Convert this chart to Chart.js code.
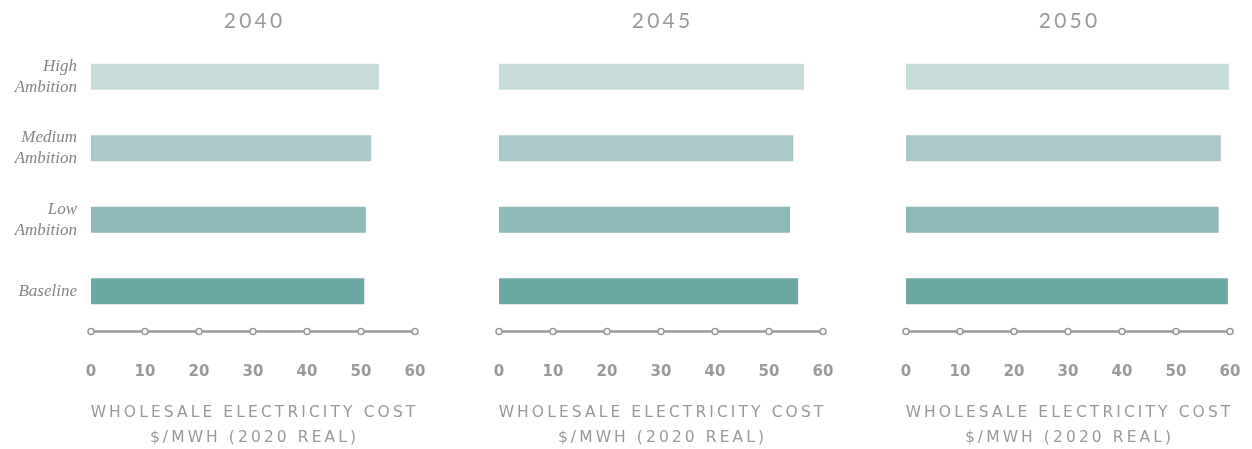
<!DOCTYPE html>
<html>
<head>
<meta charset="utf-8">
<script src="https://cdn.jsdelivr.net/npm/chart.js@4.4.1/dist/chart.umd.min.js"></script>
<style>
  body { margin: 0; background: #fff; }
  #wrap { position: relative; width: 1252px; height: 449px; overflow: hidden; }
  .panel { position: absolute; top: 0; width: 440px; height: 449px; }
  .year {
    position: absolute; top: 8px; line-height: 24px; transform: translateX(-50%);
    font-family: Lato, sans-serif; font-weight: 400; font-size: 21px;
    letter-spacing: 3.2px; padding-left: 3.2px; color: #9a9a9a; white-space: nowrap;
  }
  .axisTitle {
    position: absolute; top: 400px; line-height: 25px; transform: translateX(-50%);
    font-family: "DejaVu Sans", sans-serif; font-size: 15.5px; text-align: center;
    letter-spacing: 3.1px; padding-left: 3.1px; color: #999; white-space: nowrap;
  }
</style>
</head>
<body>
<div id="wrap"></div>
<script>
// scenario rows, top to bottom
var categories = [['High', 'Ambition'], ['Medium', 'Ambition'], ['Low', 'Ambition'], 'Baseline'];
var years = ['2040', '2045', '2050'];

// wholesale cost, $/MWh (2020 real)
var cost2040 = [53.3, 51.9, 50.9, 50.6];
var cost2045 = [56.5, 54.5, 53.9, 55.4];
var cost2050 = [59.8, 58.3, 57.9, 59.6];

var xTicks = [0, 10, 20, 30, 40, 50, 60];
var axisTitle = ['WHOLESALE ELECTRICITY COST', '$/MWH (2020 REAL)'];

var barColors = ['#c5dcd9', '#a8c9c8', '#8db9b8', '#6ea8a5'];
var grey = '#9a9a9a';

// axis line with hollow dots at each tick, a bit under the plot
var dottedAxis = {
    id: 'dottedAxis',
    beforeDraw: function (chart) {
        chart.ctx.letterSpacing = '0px';
    },
    afterDatasetsDraw: function (chart) {
        // x scale (z:1) draws right after this
        chart.ctx.letterSpacing = '1px';
    },
    afterDraw: function (chart) {
        var ctx = chart.ctx, x = chart.scales.x;
        var y = chart.chartArea.bottom + 4.5;
        ctx.save();
        ctx.letterSpacing = '0px';
        ctx.strokeStyle = grey;
        ctx.lineWidth = 2.5;
        ctx.beginPath();
        ctx.moveTo(x.getPixelForValue(xTicks[0]), y);
        ctx.lineTo(x.getPixelForValue(xTicks[xTicks.length - 1]), y);
        ctx.stroke();
        ctx.lineWidth = 1.5;
        ctx.fillStyle = '#fff';
        xTicks.forEach(function (v) {
            ctx.beginPath();
            ctx.arc(x.getPixelForValue(v), y, 3, 0, Math.PI * 2);
            ctx.fill();
            ctx.stroke();
        });
        ctx.restore();
    }
};

function makePanel(left, year, values, showLabels) {
    var wrap = document.getElementById('wrap');
    var div = document.createElement('div');
    div.className = 'panel';
    div.style.left = left + 'px';
    var canvas = document.createElement('canvas');
    canvas.width = 440;
    canvas.height = 449;
    div.appendChild(canvas);
    wrap.appendChild(div);

    var center = left + 91 + 162;
    var t = document.createElement('div');
    t.className = 'year';
    t.style.left = center + 'px';
    t.textContent = year;
    wrap.appendChild(t);

    var a = document.createElement('div');
    a.className = 'axisTitle';
    a.style.left = center + 'px';
    a.innerHTML = axisTitle.join('<br>');
    wrap.appendChild(a);

    return new Chart(canvas, {
        type: 'bar',
        data: {
            labels: categories,
            datasets: [{
                data: values,
                backgroundColor: barColors,
                borderWidth: 0,
                barPercentage: 0.365,
                categoryPercentage: 1
            }]
        },
        options: {
            indexAxis: 'y',
            responsive: false,
            animation: false,
            layout: { padding: { left: 0, right: 25, top: 41, bottom: 68 } },
            plugins: { legend: { display: false }, tooltip: { enabled: false } },
            scales: {
                x: {
                    z: 1,
                    min: 0,
                    max: 60,
                    afterBuildTicks: function (scale) {
                        scale.ticks = xTicks.map(function (v) { return { value: v }; });
                    },
                    afterFit: function (scale) {
                        scale.height = 54;
                        scale.paddingLeft = 0;
                        scale.paddingRight = 0;
                    },
                    grid: { display: false, drawTicks: false },
                    border: { display: false },
                    ticks: {
                        padding: 36,
                        maxRotation: 0,
                        color: grey,
                        font: { family: '"DejaVu Sans"', size: 15, weight: 'bold' }
                    }
                },
                y: {
                    display: showLabels,
                    afterFit: function (scale) { scale.width = 91; },
                    grid: { display: false, drawTicks: false },
                    border: { display: false },
                    ticks: {
                        padding: 14,
                        color: '#858585',
                        font: { family: '"Liberation Serif"', size: 17, style: 'italic', lineHeight: 1.25 }
                    }
                }
            }
        },
        plugins: [dottedAxis]
    });
}

makePanel(0, years[0], cost2040, true);
makePanel(408, years[1], cost2045, false);
makePanel(815, years[2], cost2050, false);
</script>
</body>
</html>
